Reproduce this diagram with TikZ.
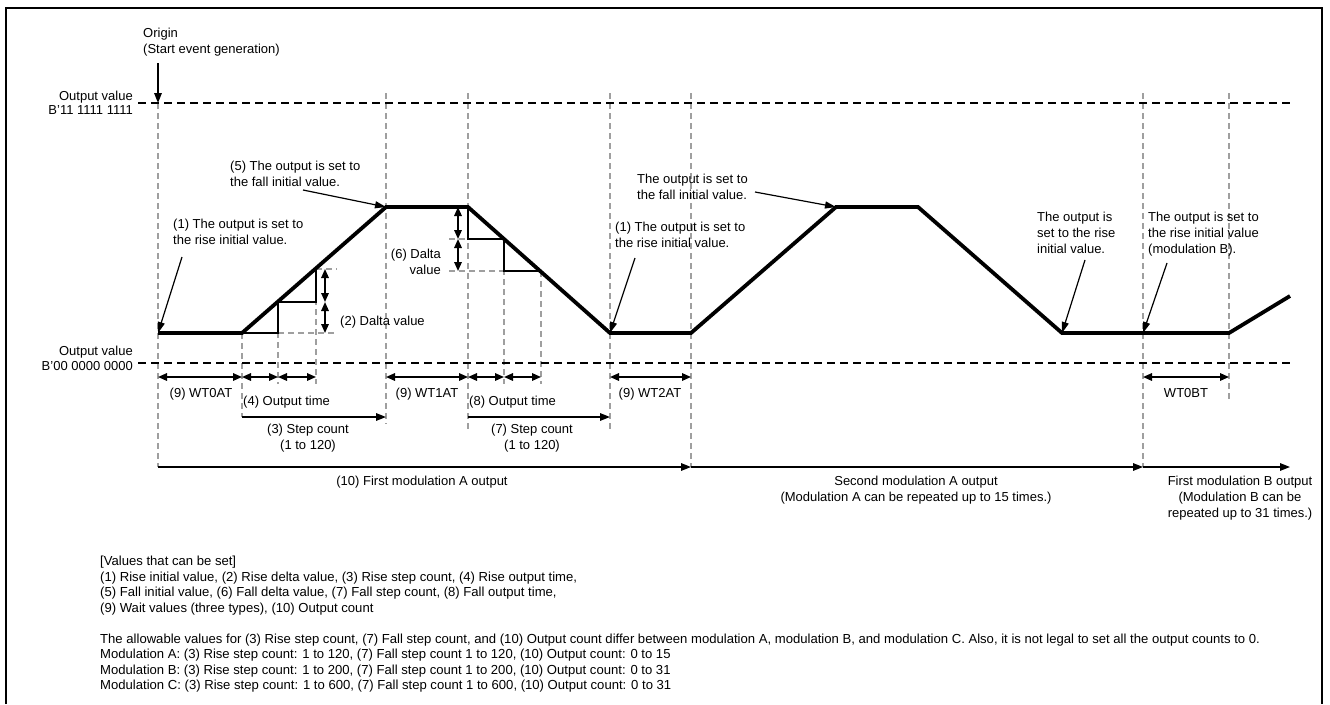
\documentclass[tikz,border=0pt]{standalone}
\usepackage{fontspec}
\setmainfont{Liberation Sans}
\usetikzlibrary{arrows.meta}
\begin{document}
\begin{tikzpicture}[x=1pt,y=-1pt,
  lbl/.style={font=\fontsize{13}{16}\selectfont, inner sep=0pt, align=left, anchor=north west},
  lblr/.style={font=\fontsize{13}{15.5}\selectfont, inner sep=0pt, align=right, anchor=north east},
  lblc/.style={font=\fontsize{13}{16}\selectfont, inner sep=0pt, align=center, anchor=north},
  blk/.style={font=\fontsize{13.1}{15.5}\selectfont, inner sep=0pt, align=left, anchor=north west},
  wave/.style={line width=3.8pt, line join=miter, line cap=butt},
  lvl/.style={line width=1.5pt, dash pattern=on 8pt off 5pt},
  guide/.style={draw=gray!75, line width=1.1pt, dash pattern=on 6pt off 4pt},
  stepl/.style={line width=1.3pt},
  dim/.style={line width=1.6pt, {Triangle[length=9pt,width=7.5pt]}-{Triangle[length=9pt,width=7.5pt]}},
  fwd/.style={line width=1.6pt, -{Triangle[length=10pt,width=7.5pt]}},
  call/.style={line width=1.2pt, -{Triangle[length=11pt,width=7pt]}},
]
\useasboundingbox (0,0) rectangle (1330,704);
\draw[line width=2pt] (6,704) -- (6,8) -- (1322,8) -- (1322,704);

% waveform vertices
\coordinate (w0) at (158,333);
\coordinate (w1) at (242,333);
\coordinate (w2) at (386,207);
\coordinate (w3) at (468,207);
\coordinate (w4) at (610,333);
\coordinate (w5) at (691,333);
\coordinate (w6) at (836,207);
\coordinate (w7) at (918,207);
\coordinate (w8) at (1062,333);
\coordinate (w9) at (1229,333);
\coordinate (w10) at (1290,296);

% guide lines
\draw[guide] (158,103) -- (158,467);
\draw[guide] (242,333) -- (242,417);
\draw[guide] (278,302) -- (278,384);
\draw[guide] (316,269) -- (316,384);
\draw[guide] (386,93) -- (386,424);
\draw[guide] (468,93) -- (468,430);
\draw[guide] (504,239) -- (504,384);
\draw[guide] (541,271) -- (541,384);
\draw[guide] (610,93) -- (610,430);
\draw[guide] (691,93) -- (691,467);
\draw[guide] (1143,93) -- (1143,467);
\draw[guide] (1229,93) -- (1229,400);
\draw[guide] (278,333) -- (337,333);
\draw[guide] (316,269) -- (337,269);
\draw[guide] (449,239) -- (468,239);
\draw[guide] (449,271) -- (504,271);

% level lines
\draw[lvl] (138,103) -- (1290,103);
\draw[lvl] (138,363) -- (1290,363);

% origin
\node[lbl] (origin) at (143,28) {Origin\\(Start event generation)};
\coordinate (otop) at (158,63);
\coordinate (obot) at (158,103);
\draw[fwd] (otop) -- (obot);

\node[lblr, font=\fontsize{13}{13.5}\selectfont] (ovtop) at (133,91) {Output value\\B'11 1111 1111};
\node[lblr, font=\fontsize{13}{14.5}\selectfont] (ovbot) at (133,346) {Output value\\B'00 0000 0000};

% steps
\draw[stepl] (w1) -- (278,333) -- (278,302) -- (316,302) -- (316,269);
\draw[stepl] (w3) -- (468,239) -- (504,239) -- (504,271) -- (541,271);
\draw[dim] (325,269) -- (325,302);
\draw[dim] (325,302) -- (325,333);
\draw[dim] (458,207) -- (458,239);
\draw[dim] (458,239) -- (458,271);

% waveform
\draw[wave] (w0) -- (w1) -- (w2) -- (w3) -- (w4) -- (w5) -- (w6) -- (w7) -- (w8) -- (w9) -- (w10);

% labels and callouts
\node[lbl] (l5) at (230,161) {(5) The output is set to\\the fall initial value.};
\coordinate (c5) at (303,190);
\draw[call] (c5) -- (w2);
\node[lbl] (l1a) at (173,219) {(1) The output is set to\\the rise initial value.};
\coordinate (c1a) at (182,257);
\draw[call] (c1a) -- (w0);
\node[lbl] (l2) at (340,316) {(2) Dalta value};
\node[lblr] (l6) at (441,249) {(6) Dalta\\value};
\node[lbl] (l1b) at (615,222) {(1) The output is set to\\the rise initial value.};
\coordinate (c1b) at (635,258);
\draw[call] (c1b) -- (w4);
\node[lbl] (l5b) at (637,174) {The output is set to\\the fall initial value.};
\coordinate (c5b) at (755,192);
\draw[call] (c5b) -- (w6);
\node[lbl] (l1c) at (1037,212) {The output is\\set to the rise\\initial value.};
\coordinate (c1c) at (1085,260);
\draw[call] (c1c) -- (w8);
\node[lbl] (l1d) at (1148,212) {The output is set to\\the rise initial value\\(modulation B).};
\coordinate (c1d) at (1167,263);
\coordinate (mb) at (1143,333);
\draw[call] (c1d) -- (mb);

% time dimension arrows
\draw[dim] (158,377) -- (242,377);
\draw[dim] (242,377) -- (278,377);
\draw[dim] (278,377) -- (316,377);
\draw[dim] (386,377) -- (468,377);
\draw[dim] (468,377) -- (504,377);
\draw[dim] (504,377) -- (541,377);
\draw[dim] (610,377) -- (691,377);
\draw[dim] (1143,377) -- (1229,377);
\draw[fwd] (242,417) -- (386,417);
\draw[fwd] (468,417) -- (610,417);
\draw[fwd] (158,467) -- (691,467);
\draw[fwd] (691,467) -- (1143,467);
\draw[fwd] (1143,467) -- (1290,467);

\node[lblc] (wt0a) at (201,388) {(9) WT0AT};
\node[lbl] (ot4) at (243,396) {(4) Output time};
\node[lblc] (sc3) at (308,424) {(3) Step count\\(1 to 120)};
\node[lblc] (wt1a) at (427,388) {(9) WT1AT};
\node[lbl] (ot8) at (469,396) {(8) Output time};
\node[lblc] (sc7) at (532,424) {(7) Step count\\(1 to 120)};
\node[lblc] (wt2a) at (650,388) {(9) WT2AT};
\node[lblc] (wt0b) at (1186,388) {WT0BT};
\node[lblc] (m1) at (422,476) {(10) First modulation A output};
\node[lblc] (m2) at (916,476) {Second modulation A output\\(Modulation A can be repeated up to 15 times.)};
\node[lblc] (m3) at (1240,476) {First modulation B output\\(Modulation B can be\\repeated up to 31 times.)};

% text block
\node[blk] (vals) at (100,556) {{[}Values that can be set{]}\\
(1) Rise initial value, (2) Rise delta value, (3) Rise step count, (4) Rise output time,\\
(5) Fall initial value, (6) Fall delta value, (7) Fall step count, (8) Fall output time,\\
(9) Wait values (three types), (10) Output count\\[15.5pt]
The allowable values for (3) Rise step count, (7) Fall step count, and (10) Output count differ between modulation A, modulation B, and modulation C. Also, it is not legal to set all the output counts to 0.\\
Modulation A: (3) Rise step count: 1 to 120, (7) Fall step count 1 to 120, (10) Output count: 0 to 15\\
Modulation B: (3) Rise step count: 1 to 200, (7) Fall step count 1 to 200, (10) Output count: 0 to 31\\
Modulation C: (3) Rise step count: 1 to 600, (7) Fall step count 1 to 600, (10) Output count: 0 to 31};
\end{tikzpicture}
\end{document}
